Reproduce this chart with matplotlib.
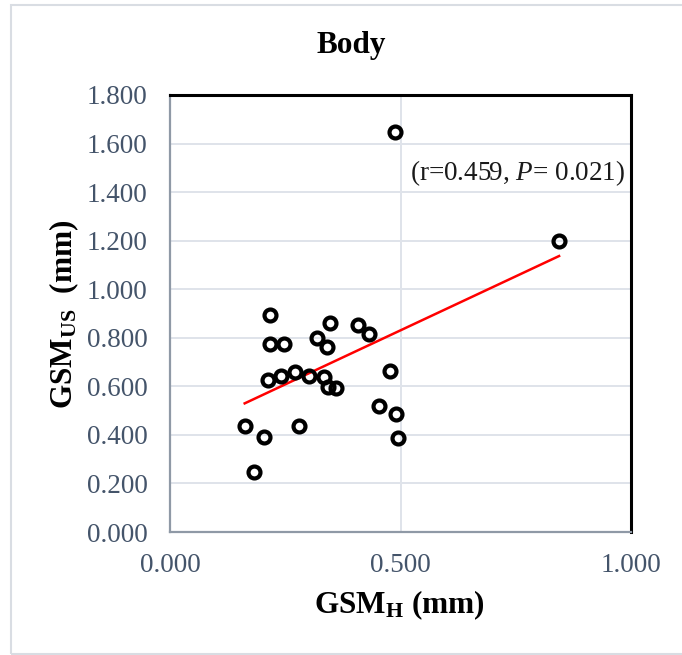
import matplotlib
matplotlib.use("Agg")
import matplotlib.pyplot as plt
import numpy as np
from matplotlib.patches import Rectangle

# GSM values (mm)
gsm_h = [0.487, 0.844, 0.216, 0.216, 0.248, 0.346, 0.319, 0.341, 0.408, 0.431,
         0.212, 0.241, 0.271, 0.302, 0.333, 0.343, 0.361, 0.477, 0.453, 0.490,
         0.494, 0.162, 0.203, 0.280, 0.183]
gsm_us = [1.648, 1.199, 0.892, 0.775, 0.775, 0.860, 0.800, 0.764, 0.854, 0.817,
          0.627, 0.643, 0.661, 0.643, 0.638, 0.596, 0.594, 0.662, 0.518, 0.484,
          0.388, 0.435, 0.393, 0.437, 0.246]
x_ticks = [0.0, 0.5, 1.0]
y_ticks = [0.0, 0.2, 0.4, 0.6, 0.8, 1.0, 1.2, 1.4, 1.6, 1.8]
stats_text = r"(r=0.459, $\mathit{P}$= 0.021)"

plt.rcParams["font.family"] = ["Liberation Serif", "DejaVu Serif"]
plt.rcParams["mathtext.fontset"] = "custom"
plt.rcParams["mathtext.rm"] = "Liberation Serif"
plt.rcParams["mathtext.it"] = "Liberation Serif:italic"
plt.rcParams["mathtext.bf"] = "Liberation Serif:bold"

W, H = 682, 655
fig = plt.figure(figsize=(W / 100, H / 100), dpi=100)

# light chart-area border (runs off the right edge)
fig.patches.append(Rectangle((11 / W, 1 / H), 1.2, 1 - 6 / H, transform=fig.transFigure,
                             fill=False, edgecolor="#d9dde3", linewidth=1.5, clip_on=False))

ax = fig.add_axes([170 / W, 1 - 532 / H, (631 - 170) / W, (532 - 95) / H])

x = np.array(gsm_h)
y = np.array(gsm_us)
slope, intercept = np.polyfit(x, y, 1)
xs = np.array([x.min(), x.max()])
ax.plot(xs, slope * xs + intercept, color="#ff0000", lw=1.8, zorder=2)

ax.plot(x, y, "o", ms=8.6, mfc="none", mec="black", mew=3.0, zorder=3)

ax.set_xlim(0, 1.0)
ax.set_ylim(0, 1.8)
ax.set_xticks(x_ticks)
ax.set_yticks(y_ticks)
ax.set_xticklabels([f"{v:.3f}" for v in x_ticks])
ax.set_yticklabels([f"{v:.3f}" for v in y_ticks])
ax.tick_params(length=0, labelsize=19.5, colors="#44546a")
ax.tick_params(axis="x", pad=15)
ax.tick_params(axis="y", pad=16)
ax.grid(True, color="#dfe3ea", lw=1.4)
ax.set_axisbelow(True)

for side in ("top", "right"):
    ax.spines[side].set_color("black")
    ax.spines[side].set_linewidth(2.2)
for side in ("left", "bottom"):
    ax.spines[side].set_color("#8f99a6")
    ax.spines[side].set_linewidth(1.6)

ax.text(0.987, 1.48, stats_text, ha="right", va="center", fontsize=19.5, color="#1a1a1a")

fig.text(351 / W, 1 - 46 / H, "Body", ha="center", va="center", fontsize=22.5, fontweight="bold")
fig.text(399 / W, 1 - 605 / H, r"$\mathbf{GSM_H}$ (mm)", ha="center", va="center",
         fontsize=22.5, fontweight="bold")
fig.text(64 / W, 1 - 314 / H, r"$\mathbf{GSM_{US}}$  (mm)", ha="center", va="center",
         rotation=90, fontsize=22.5, fontweight="bold")

fig.savefig("out.png", dpi=100)
